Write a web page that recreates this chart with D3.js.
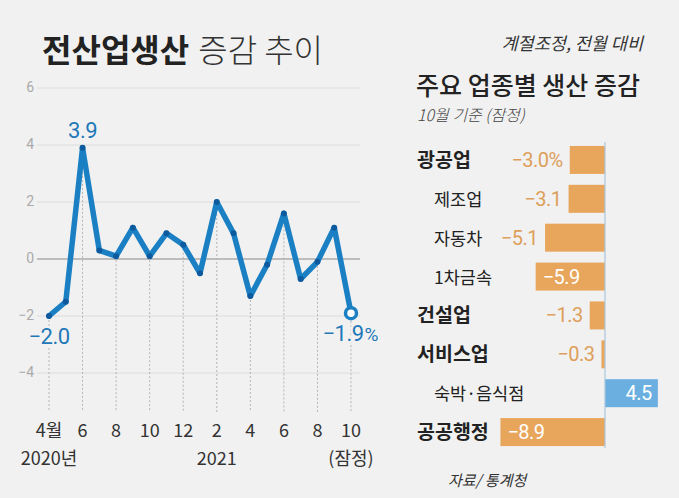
<!DOCTYPE html>
<html><head><meta charset="utf-8">
<script src="https://cdn.jsdelivr.net/npm/d3@7"></script>
<style>
html,body{margin:0;padding:0;background:#f1f1f1;}
svg{display:block;font-family:"Noto Sans CJK KR","Noto Sans",sans-serif;}
.num{font-family:Roboto,"Noto Sans",sans-serif;}
</style></head>
<body><svg id="c" width="679" height="498"></svg>
<script>
// ---- data: left line chart ----
const monthTicks = ["4월","","6","","8","","10","","12","","2","","4","","6","","8","","10"];
const productionChange = [-2.0,-1.5,3.9,0.3,0.1,1.1,0.1,0.9,0.5,-0.5,2.0,0.9,-1.3,-0.2,1.6,-0.7,-0.1,1.1,-1.9];
const yTicks = [6,4,2,0,-2,-4];
const yearLabels = [{i:0,t:"2020년"},{i:10,t:"2021"},{i:18,t:"(잠정)"}];

// ---- data: right bar chart ----
const industries = ["광공업","제조업","자동차","1차금속","건설업","서비스업","숙박·음식점","공공행정"];
const industryChange = [-3.0,-3.1,-5.1,-5.9,-1.3,-0.3,4.5,-8.9];
const isMainCategory = [true,false,false,false,true,true,false,true];
const valueInside = [false,false,false,true,false,false,true,true];

const svg = d3.select("#c");
const W=679,H=498;
svg.append("rect").attr("width",W).attr("height",H).attr("fill","#f1f1f1");

// Title
const title = svg.append("text").attr("x",42).attr("y",62).attr("font-size",32).attr("fill","#222");
title.append("tspan").attr("font-weight",700).text("전산업생산");
title.append("tspan").attr("font-weight",300).attr("dx",9).attr("fill","#333").text("증감 추이");

// ---- line chart ----
const x = d3.scalePoint().domain(d3.range(productionChange.length)).range([49,351]);
const y = d3.scaleLinear().domain([-4,6]).range([373,88]);

const g = svg.append("g");
g.selectAll("line.h").data(yTicks).join("line")
  .attr("x1",37).attr("x2",360).attr("y1",d=>y(d)).attr("y2",d=>y(d))
  .attr("stroke",d=>d===0?"#8a8a8a":"#dcdcdc").attr("stroke-width",d=>d===0?1.2:1);
g.selectAll("text.yt").data(yTicks).join("text").attr("class","num")
  .attr("x",34).attr("y",d=>y(d)+4).attr("text-anchor","end")
  .attr("font-size",14).attr("fill","#aaa")
  .text(d=>d<0?"−"+Math.abs(d):d);

const tickIdx = d3.range(productionChange.length).filter(i=>monthTicks[i]!=="");
g.selectAll("line.v").data(tickIdx).join("line")
  .attr("x1",i=>x(i)).attr("x2",i=>x(i))
  .attr("y1",i=>y(productionChange[i])).attr("y2",412)
  .attr("stroke","#b5b5b5").attr("stroke-width",1).attr("stroke-dasharray","2,2");

const line = d3.line().x((d,i)=>x(i)).y(d=>y(d));
g.append("path").datum(productionChange).attr("d",line)
  .attr("fill","none").attr("stroke","#1a80c3").attr("stroke-width",5.5)
  .attr("stroke-linejoin","round").attr("stroke-linecap","round");
g.selectAll("circle.p").data(productionChange.slice(0,-1)).join("circle")
  .attr("cx",(d,i)=>x(i)).attr("cy",d=>y(d)).attr("r",3).attr("fill","#0d5a9e");
const last = productionChange.length-1;
g.append("circle").attr("cx",x(last)).attr("cy",y(productionChange[last])).attr("r",5.5)
  .attr("fill","#fff").attr("stroke","#1a80c3").attr("stroke-width",3.5);

const lblStyle = s=>s.attr("class","num").attr("fill","#1f78b8").attr("font-size",22).attr("font-weight",400)
  .attr("letter-spacing",-0.5)
  .attr("stroke","#f1f1f1").attr("stroke-width",5).attr("paint-order","stroke");
lblStyle(g.append("text").attr("x",x(2)).attr("y",y(productionChange[2])-10).attr("text-anchor","middle").text(productionChange[2].toFixed(1)));
lblStyle(g.append("text").attr("x",x(0)).attr("y",y(productionChange[0])+28).attr("text-anchor","middle").text("−"+Math.abs(productionChange[0]).toFixed(1)));
const l2 = g.append("text").attr("x",378).attr("y",y(productionChange[last])+28).attr("text-anchor","end");
lblStyle(l2);
l2.append("tspan").text("−"+Math.abs(productionChange[last]).toFixed(1));
l2.append("tspan").attr("font-size",19).attr("dx",1).text("%");

g.selectAll("text.xt").data(tickIdx).join("text")
  .attr("x",i=>x(i)).attr("y",437).attr("text-anchor","middle")
  .attr("font-size",18).attr("fill","#333").text(i=>monthTicks[i]);
g.selectAll("text.yr").data(yearLabels).join("text")
  .attr("x",d=>x(d.i)).attr("y",465).attr("text-anchor","middle")
  .attr("font-size",18).attr("fill","#333").text(d=>d.t);

// ---- right bar chart ----
svg.append("text").attr("x",643).attr("y",50).attr("text-anchor","end")
  .attr("font-size",17.5).attr("font-style","italic").attr("fill","#333").text("계절조정, 전월 대비");
svg.append("text").attr("x",416).attr("y",95).attr("font-size",25).attr("font-weight",500)
  .attr("fill","#222").text("주요 업종별 생산 증감");
svg.append("text").attr("x",417).attr("y",121).attr("font-size",16).attr("font-style","italic")
  .attr("font-weight",300).attr("fill","#444").text("10월 기준 (잠정)");

const bx = d3.scaleLinear().domain([-10,5]).range([487.5,663.75]);
const by = d3.scaleBand().domain(d3.range(industries.length)).range([140.5,451.5]).paddingInner(0.28).paddingOuter(0.14);

const bg = svg.append("g");
bg.selectAll("rect").data(industryChange).join("rect")
  .attr("x",d=>bx(Math.min(0,d))).attr("width",d=>Math.abs(bx(d)-bx(0)))
  .attr("y",(d,i)=>by(i)).attr("height",by.bandwidth())
  .attr("fill",d=>d<0?"#e8a65c":"#6aafdf");
bg.append("line").attr("x1",bx(0)).attr("x2",bx(0)).attr("y1",142).attr("y2",448)
  .attr("stroke","#a9c6de").attr("stroke-width",1.2);

bg.selectAll("text.cat").data(industries).join("text")
  .attr("x",(d,i)=>isMainCategory[i]?417:434)
  .attr("y",(d,i)=>by(i)+by.bandwidth()/2+7)
  .attr("font-size",(d,i)=>isMainCategory[i]?19.5:17.5)
  .attr("font-weight",(d,i)=>isMainCategory[i]?700:400)
  .attr("fill","#222").text(d=>d);

const fmt = (d,i)=>(d<0?"−":"")+Math.abs(d).toFixed(1)+(i===0?"%":"");
bg.selectAll("text.val").data(industryChange).join("text").attr("class","num")
  .attr("x",(d,i)=>{
    if(!valueInside[i]) return bx(Math.min(0,d))-7;
    return d<0 ? bx(d)+7 : bx(d)-6;
  })
  .attr("text-anchor",(d,i)=>(!valueInside[i]||d>0)?"end":"start")
  .attr("y",(d,i)=>by(i)+by.bandwidth()/2+7)
  .attr("font-size",20).attr("letter-spacing",-0.5)
  .attr("fill",(d,i)=>valueInside[i]?"#fff":"#dd9f5b")
  .text(fmt);

svg.append("text").attr("x",448).attr("y",486).attr("font-size",15).attr("font-style","italic")
  .attr("fill","#333").text("자료/ 통계청");
</script></body></html>
